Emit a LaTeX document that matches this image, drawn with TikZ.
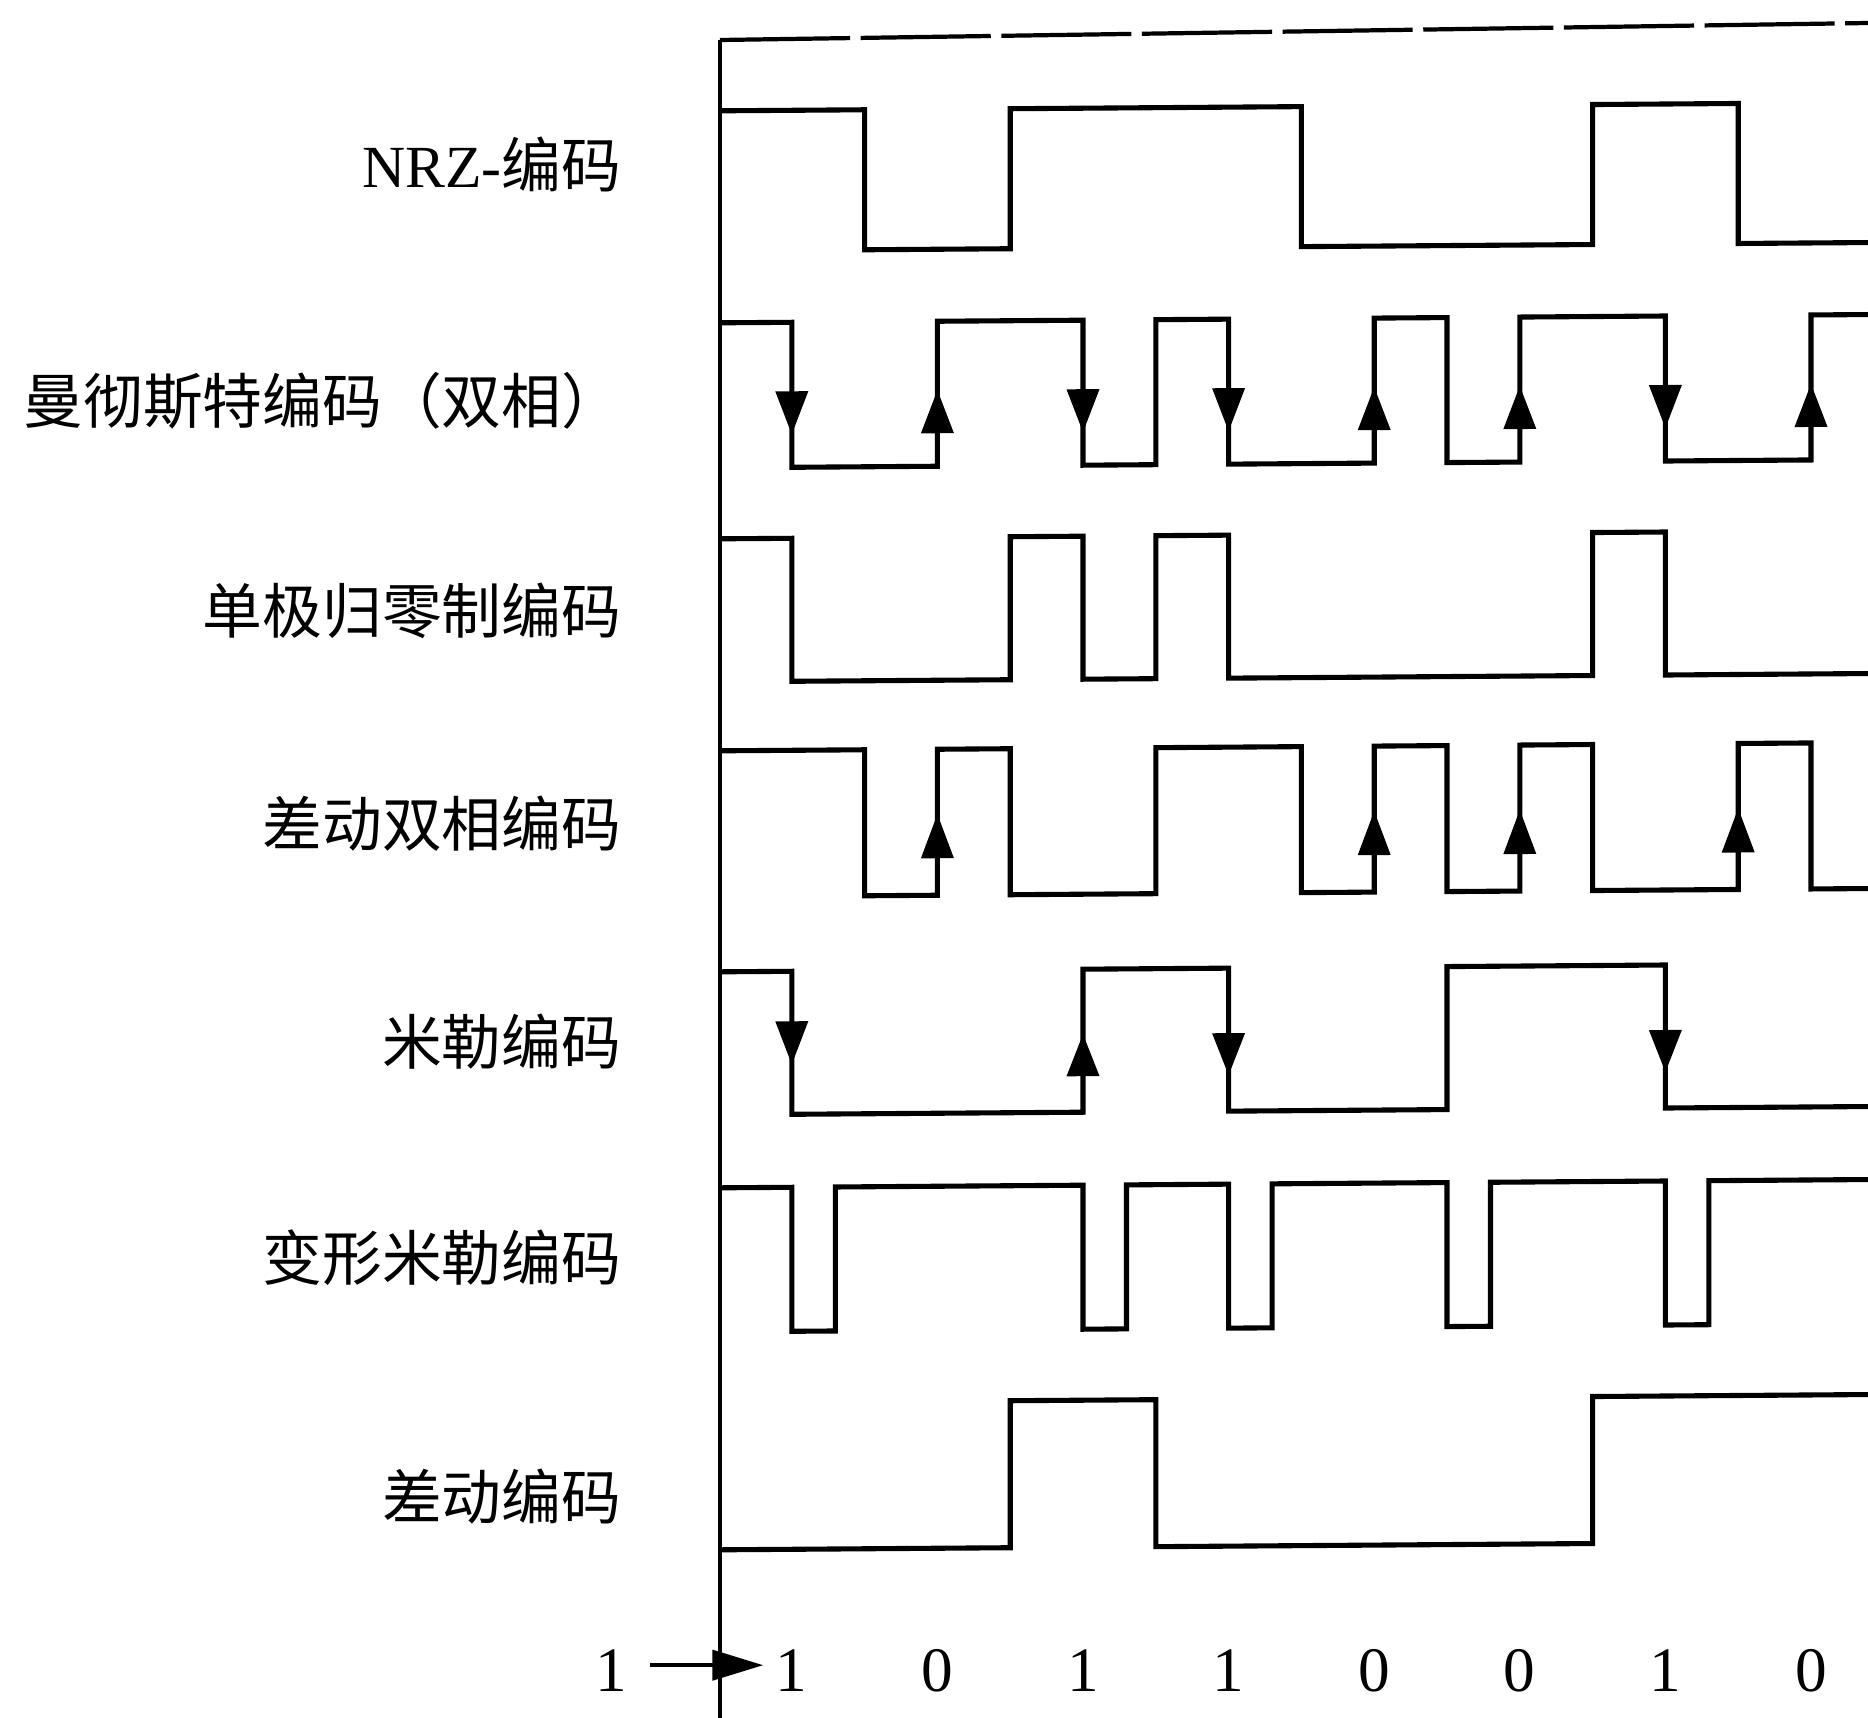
\documentclass[tikz,border=0pt]{standalone}
\usepackage{fontspec}
\setmainfont{Liberation Serif}
\newfontfamily\cjk{Noto Sans CJK SC}
\usetikzlibrary{arrows.meta}
\newcommand\wdn[3]{\fill (#1-16.5,#2) -- (#1+16.5,#2) -- (#1,#3) -- cycle;}
\newcommand\wup[3]{\fill (#1-16.5,#3) -- (#1+16.5,#3) -- (#1,#2) -- cycle;}
\begin{document}
\begin{tikzpicture}[x=0.01cm,y=-0.01cm,
  wave/.style={line width=1.45pt, line join=miter},
  lbl/.style={anchor=base east, inner sep=0pt, font=\fontsize{17pt}{20pt}\selectfont\cjk},
  bit/.style={anchor=base, inner sep=0pt, font=\fontsize{18pt}{20pt}\selectfont},
  bitarrow/.style={line width=1.3pt, -{Triangle[length=14.5pt,width=8.5pt]}}]
\useasboundingbox (0,0) rectangle (1868,1718);
% frame
\draw[line width=1.2pt] (720,40) -- (720,1718);
\draw[line width=1.2pt, dash pattern=on 37pt off 3pt] (720,40) -- (1868,23);
% labels
\node[lbl] (nrz) at (622,187) {{\rmfamily NRZ-}编码};
\node[lbl] (man) at (622,423) {曼彻斯特编码（双相）};
\node[lbl] (urz) at (622,633) {单极归零制编码};
\node[lbl] (dbp) at (622,846) {差动双相编码};
\node[lbl] (mil) at (622,1064) {米勒编码};
\node[lbl] (mmil) at (622,1280) {变形米勒编码};
\node[lbl] (dif) at (622,1519) {差动编码};
% bits
\node[bit] (init) at (611,1691) {1};
\node[bit] (b0) at (791.8,1691) {1};
\node[bit] (b1) at (937.4,1691) {0};
\node[bit] (b2) at (1083,1691) {1};
\node[bit] (b3) at (1228.6,1691) {1};
\node[bit] (b4) at (1374.2,1691) {0};
\node[bit] (b5) at (1519.8,1691) {0};
\node[bit] (b6) at (1665.4,1691) {1};
\node[bit] (b7) at (1811,1691) {0};
\draw[bitarrow, shorten <=6.3pt, shorten >=3.4pt] ([yshift=1.4pt]init.east) -- ([yshift=1.4pt]b0.west);
\begin{scope}[yslant=0.0072]
% NRZ
\draw[wave] (720,116) -- (864.6,116) -- (864.6,256) -- (1010.2,256) -- (1010.2,116) -- (1301.4,116) -- (1301.4,256) -- (1592.6,256) -- (1592.6,116) -- (1738.2,116) -- (1738.2,256) -- (1868,256);
% Manchester
\draw[wave] (720,328) -- (791.8,328) -- (791.8,473) -- (937.4,473) -- (937.4,328) -- (1083,328) -- (1083,473) -- (1155.8,473) -- (1155.8,328) -- (1228.6,328) -- (1228.6,473) -- (1374.2,473) -- (1374.2,328) -- (1447,328) -- (1447,473) -- (1519.8,473) -- (1519.8,328) -- (1665.4,328) -- (1665.4,473) -- (1811,473) -- (1811,328) -- (1868,328);
\wdn{791.8}{397}{440}
\wup{937.4}{397}{440}
\wdn{1083}{397}{440}
\wdn{1228.6}{397}{440}
\wup{1374.2}{397}{440}
\wup{1519.8}{397}{440}
\wdn{1665.4}{397}{440}
\wup{1811}{397}{440}
% Unipolar RZ
\draw[wave] (720,544) -- (791.8,544) -- (791.8,687) -- (1010.2,687) -- (1010.2,544) -- (1083,544) -- (1083,687) -- (1155.8,687) -- (1155.8,544) -- (1228.6,544) -- (1228.6,687) -- (1592.6,687) -- (1592.6,544) -- (1665.4,544) -- (1665.4,687) -- (1868,687);
% Differential biphase
\draw[wave] (720,756) -- (864.6,756) -- (864.6,902) -- (937.4,902) -- (937.4,756) -- (1010.2,756) -- (1010.2,902) -- (1155.8,902) -- (1155.8,756) -- (1301.4,756) -- (1301.4,902) -- (1374.2,902) -- (1374.2,756) -- (1447,756) -- (1447,902) -- (1519.8,902) -- (1519.8,756) -- (1592.6,756) -- (1592.6,902) -- (1738.2,902) -- (1738.2,756) -- (1811,756) -- (1811,902) -- (1868,902);
\wup{937.4}{821}{865}
\wup{1374.2}{821}{865}
\wup{1519.8}{821}{865}
\wup{1738.2}{821}{865}
% Miller
\draw[wave] (720,977) -- (791.8,977) -- (791.8,1120) -- (1083,1120) -- (1083,977) -- (1228.6,977) -- (1228.6,1120) -- (1447,1120) -- (1447,977) -- (1665.4,977) -- (1665.4,1120) -- (1868,1120);
\wdn{791.8}{1027}{1070}
\wup{1083}{1042}{1084}
\wdn{1228.6}{1042}{1084}
\wdn{1665.4}{1042}{1084}
% Modified Miller
\draw[wave] (720,1193) -- (791.8,1193) -- (791.8,1337) -- (835.3,1337) -- (835.3,1193) -- (1083,1193) -- (1083,1337) -- (1126.5,1337) -- (1126.5,1193) -- (1228.6,1193) -- (1228.6,1337) -- (1272.1,1337) -- (1272.1,1193) -- (1447,1193) -- (1447,1337) -- (1490.5,1337) -- (1490.5,1193) -- (1665.4,1193) -- (1665.4,1337) -- (1708.9,1337) -- (1708.9,1193) -- (1868,1193);
% Differential
\draw[wave] (720,1555) -- (1010.2,1555) -- (1010.2,1408) -- (1155.8,1408) -- (1155.8,1555) -- (1592.6,1555) -- (1592.6,1408) -- (1868,1408);
\end{scope}
\end{tikzpicture}
\end{document}
